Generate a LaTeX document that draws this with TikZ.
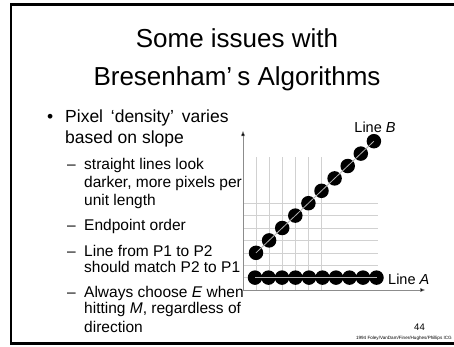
\documentclass[tikz,border=0pt]{standalone}
\usepackage{fontspec}
\setmainfont{Liberation Sans}
\usetikzlibrary{arrows.meta}
\begin{document}
\begin{tikzpicture}[x=1pt,y=-1pt,
  titletext/.style={font=\fontsize{26}{30}\selectfont, anchor=base, inner sep=0pt},
  bodytext/.style={font=\fontsize{17.5}{20}\selectfont, anchor=base west, inner sep=0pt},
  subtext/.style={font=\fontsize{15.5}{18}\selectfont, anchor=base west, inner sep=0pt},
  labeltext/.style={font=\fontsize{14.5}{17}\selectfont, inner sep=0pt},
  gridline/.style={draw=black!18, line width=0.6pt},
  axisline/.style={draw=black!45, line width=0.5pt, -{Triangle[length=5pt,width=4pt,fill=black]}},
  pixel/.style={circle, fill=black, minimum size=14.5pt, inner sep=0pt},
  trace/.style={draw=white!70!black, line width=0.8pt},
]
\useasboundingbox (0,0) rectangle (454,346);
\fill[white] (0,0) rectangle (454,346);

% slide frame (open to the right)
\draw[line width=2.5pt] (470,4.7) -- (11,4.7) -- (11,343.5) -- (470,343.5);

% title
\node[titletext] (t1) at (237,47) {Some issues with};
\node[titletext] (t2) at (237,85) {Bresenham’\hspace{0.2em}s Algorithms};

% bullet list
\node[bodytext] (m1) at (47,122) {•};
\node[bodytext] (p1) at (65,122) {Pixel \,‘density’\, varies};
\node[bodytext] (p2) at (65,143) {based on slope};

\node[subtext] (d1) at (67,169) {–};
\node[subtext] (s1) at (84,169) {straight lines look};
\node[subtext] (s2) at (84,187) {darker, more pixels per};
\node[subtext] (s3) at (84,205) {unit length};
\node[subtext] (d2) at (67,230) {–};
\node[subtext] (s4) at (84,230) {Endpoint order};
\node[subtext] (d3) at (67,256) {–};
\node[subtext] (s5) at (84,256) {Line from P1 to P2};
\node[subtext] (s6) at (84,272) {should match P2 to P1};
\node[subtext] (d4) at (67,297) {–};
\node[subtext] (s7) at (84,297) {Always choose \textit{E} when};
\node[subtext] (s8) at (84,313) {hitting \textit{M}, regardless of};
\node[subtext] (s9) at (84,332) {direction};

% pixel grid
\foreach \k in {0,...,5}
  \draw[gridline] ({256+13.1*\k},157) -- ({256+13.1*\k},290);
\foreach \k in {1,...,7}
  \draw[gridline] (243,{290-12.4*\k}) -- (378,{290-12.4*\k});

% axes
\coordinate (O) at (243,290);
\coordinate (ytip) at (243,131);
\coordinate (xtip) at (425,290);
\draw[axisline] (O) -- (ytip);
\draw[axisline] (O) -- (xtip);

% line A: horizontal run of pixels
\foreach \i in {0,...,9}
  \node[pixel] (a\i) at ({255+13.5*\i},277.6) {};
\draw[trace] (a0.center) -- (a9.center);

% line B: diagonal run of pixels
\foreach \i in {0,...,9}
  \node[pixel] (b\i) at ({256+13.1*\i},{252.8-12.4*\i}) {};
\draw[trace] (b0.center) -- (b9.center);

\node[labeltext, anchor=base] (lB) at (375,132) {Line \textit{B}};
\node[labeltext, anchor=base west] (lA) at (388,284) {Line \textit{A}};

% footer
\node[font=\fontsize{9.5}{11}\selectfont, anchor=base east, inner sep=0pt] (pg) at (425,330) {44};
\node[font=\fontsize{4.6}{5}\selectfont, anchor=base east, inner sep=0pt] (cr) at (452,339) {1994 Foley/VanDam/Finer/Hughes/Phillips ICG};
\end{tikzpicture}
\end{document}
